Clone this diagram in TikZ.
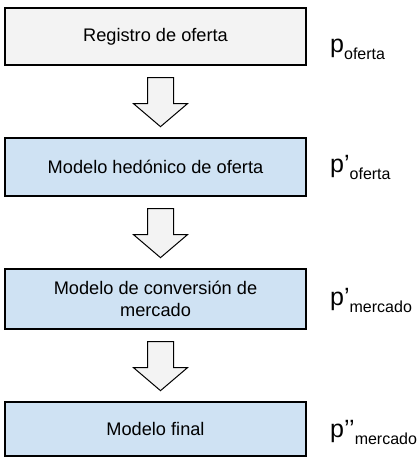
\documentclass[tikz,border=0pt]{standalone}
\usepackage{fontspec}
\setmainfont{Liberation Sans}
\definecolor{boxgray}{HTML}{F3F3F3}
\definecolor{boxblue}{HTML}{CFE2F3}
\newcommand\plbl[2]{{\fontsize{25}{25}\selectfont #1}\raisebox{-7pt}{\fontsize{16}{16}\selectfont #2}}
\begin{document}
\begin{tikzpicture}[x=1pt,y=1pt,
  stepbox/.style={draw=black,line width=1.3pt,minimum width=301pt,inner sep=0pt,align=center,
    font=\fontsize{18.2}{22}\selectfont},
  graybox/.style={stepbox,fill=boxgray},
  bluebox/.style={stepbox,fill=boxblue},
  lbl/.style={anchor=base west,inner sep=0pt},
  blockarrow/.pic={\draw[line width=1pt,fill=boxgray,line join=miter]
     (-13,0) -- (13,0) -- (13,-26) -- (27,-26) -- (0,-49) -- (-27,-26) -- (-13,-26) -- cycle;}
]
\useasboundingbox (0,0) rectangle (417,-467);
\node[graybox,minimum height=57pt] (b1) at (155.5,-36.5) {Registro de oferta};
\node[bluebox,minimum height=58pt] (b2) at (155.5,-167) {Modelo hedónico de oferta};
\node[bluebox,minimum height=60pt] (b3) at (155.5,-299) {Modelo de conversión de\\mercado};
\node[bluebox,minimum height=54pt] (b4) at (155.5,-429) {Modelo final};
\pic at ([shift={(5,-12)}]b1.south) {blockarrow};
\pic at ([shift={(5,-12)}]b2.south) {blockarrow};
\pic at ([shift={(5,-12)}]b3.south) {blockarrow};
\node[lbl] (l1) at (330,-52) {\plbl{p}{oferta}};
\node[lbl] (l2) at (330,-172) {\plbl{p’}{oferta}};
\node[lbl] (l3) at (330,-305) {\plbl{p’}{mercado}};
\node[lbl] (l4) at (330,-437) {\plbl{p’’}{mercado}};
\end{tikzpicture}
\end{document}
